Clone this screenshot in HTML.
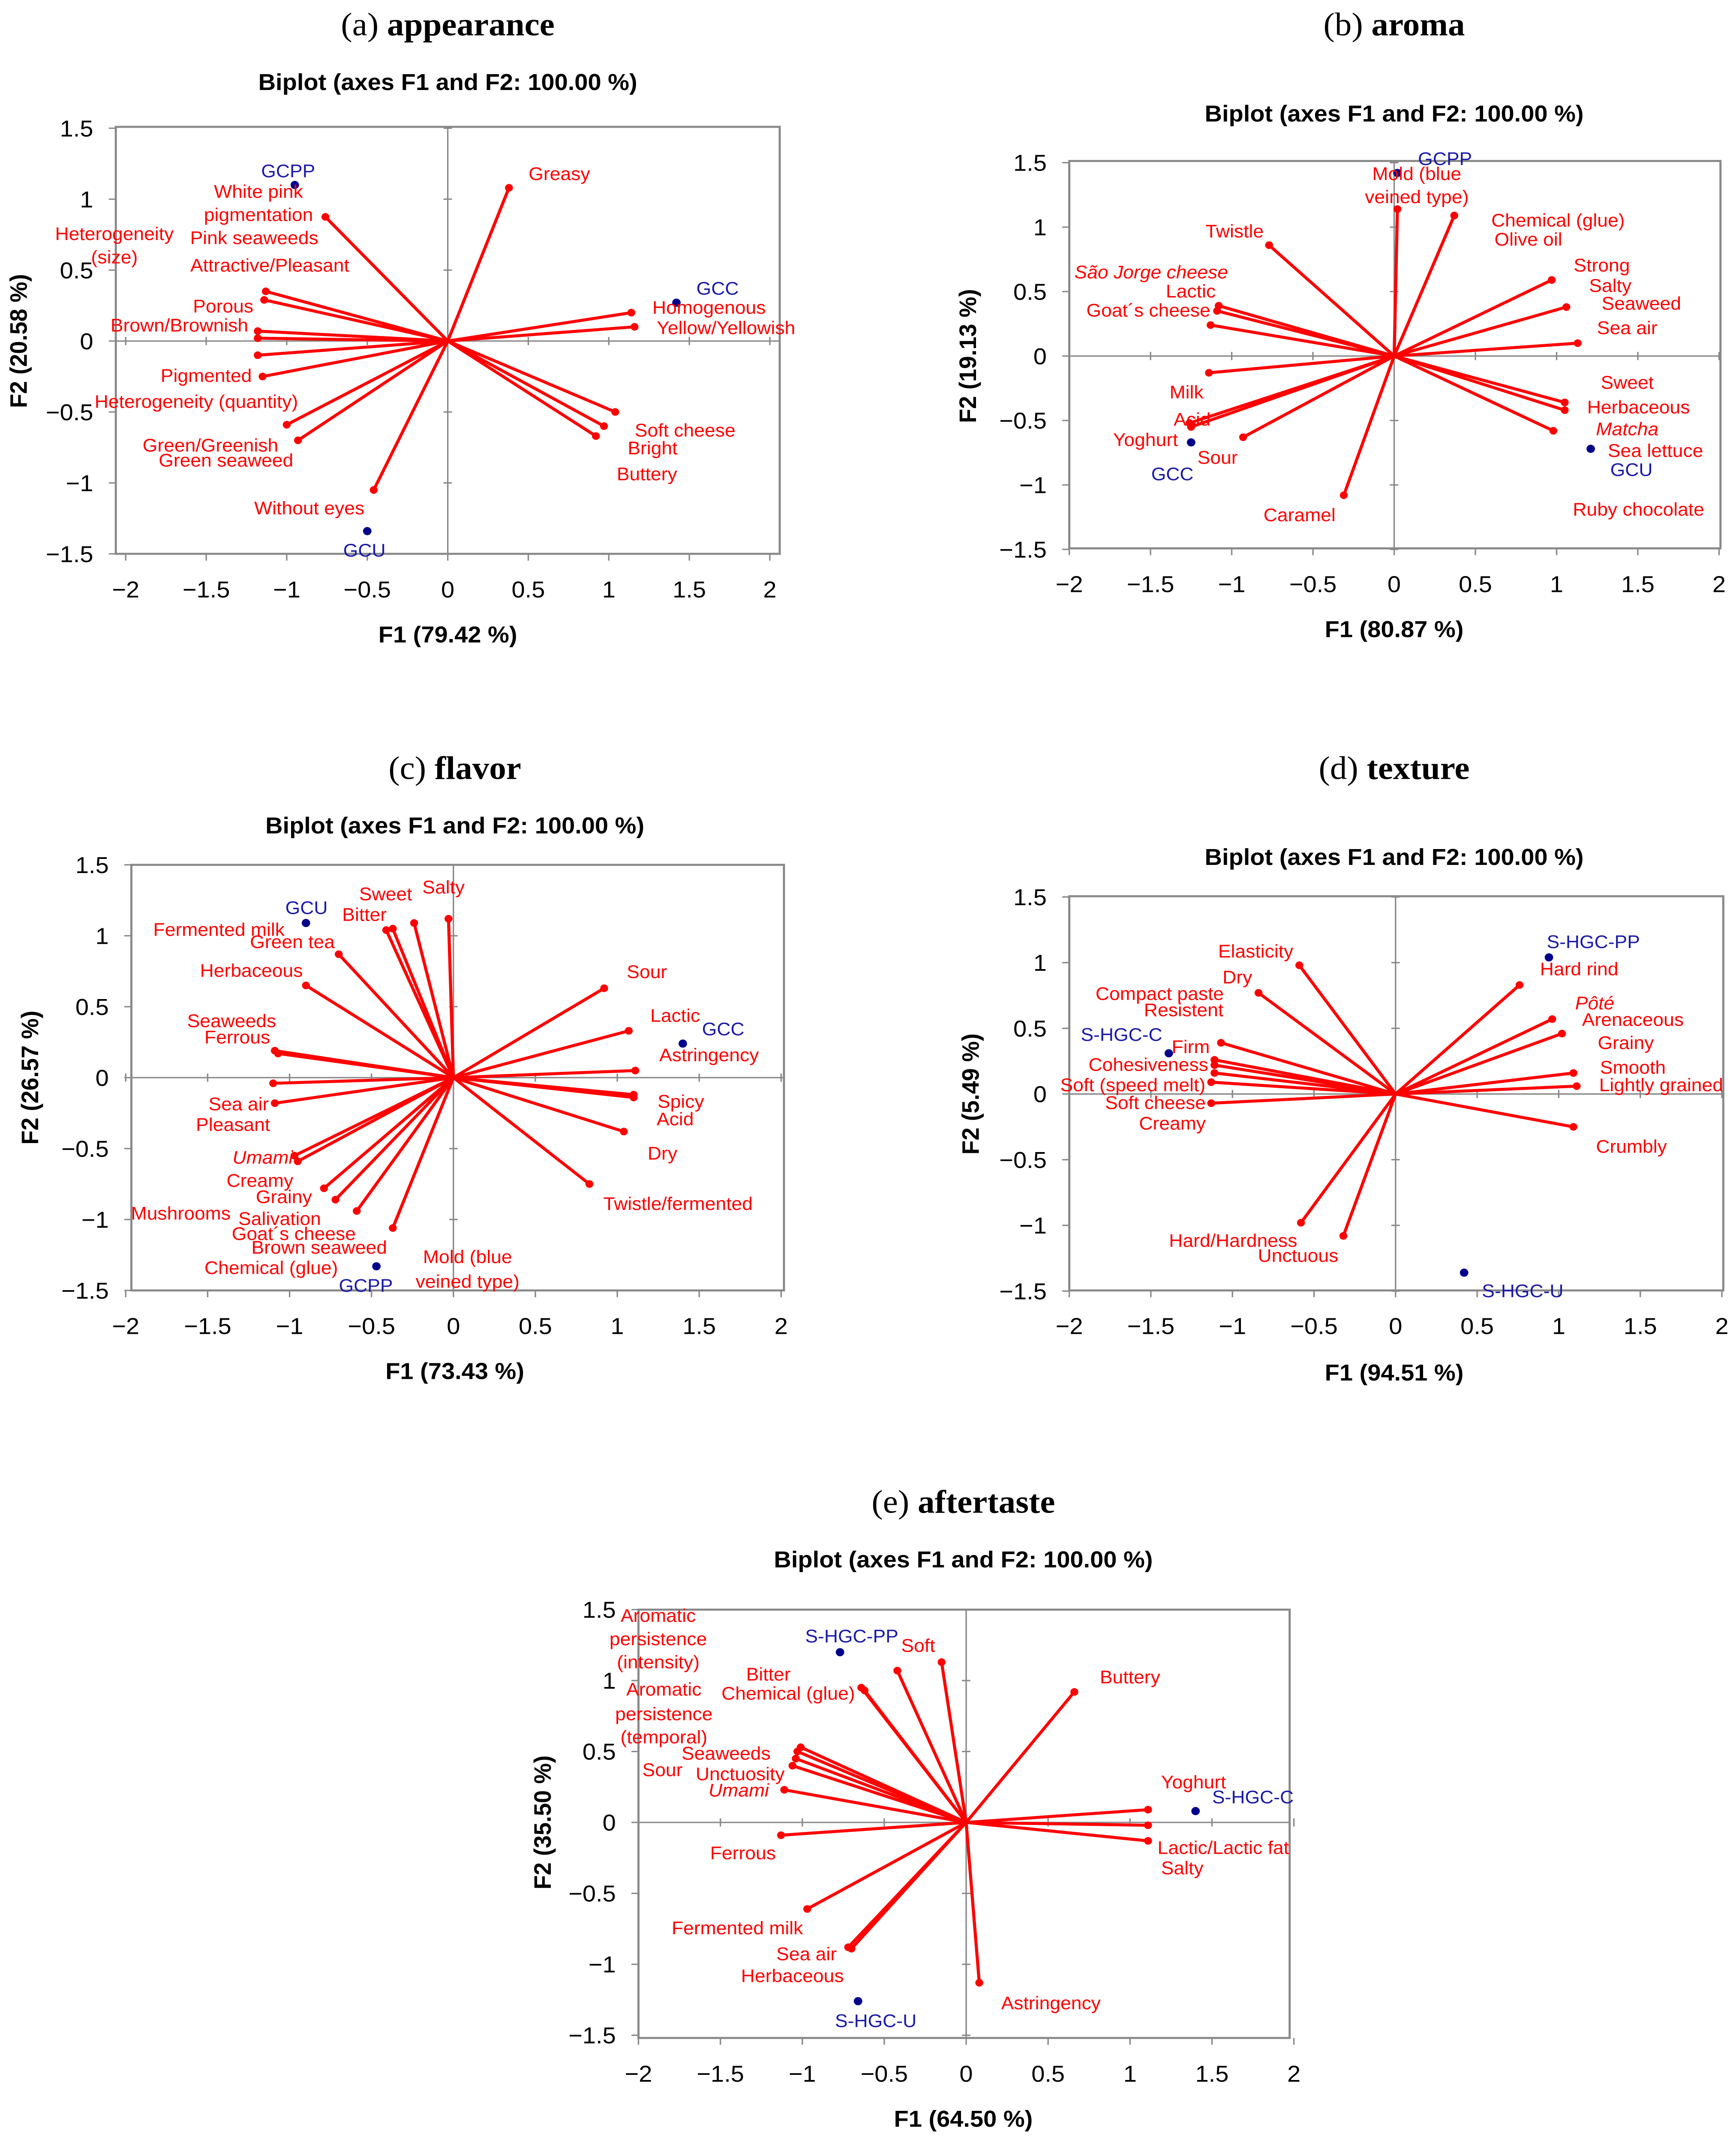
<!DOCTYPE html>
<html><head><meta charset="utf-8"><style>
html,body{margin:0;padding:0;background:#fff;width:100vw;height:100vh;overflow:hidden;}
svg{display:block;position:absolute;left:0;top:0;width:100vw;height:100vh;}
</style></head><body>
<svg id="fig" viewBox="0 0 1229 1571" preserveAspectRatio="none" xmlns="http://www.w3.org/2000/svg" font-family="'Liberation Sans Narrow', 'Liberation Sans', sans-serif"></svg>
<script>
// ---------- Panel (a) appearance ----------
const aVecNames=["Greasy","White pink pigmentation","Attractive/Pleasant","Porous","Brown/Brownish","Heterogeneity (size)","Pink seaweeds","Pigmented","Heterogeneity (quantity)","Green/Greenish","Without eyes","Homogenous","Yellow/Yellowish","Soft cheese","Bright","Buttery"];
const aVecX=[0.38,-0.76,-1.13,-1.14,-1.18,-1.18,-1.18,-1.15,-1.0,-0.93,-0.46,1.14,1.16,1.04,0.97,0.92];
const aVecY=[1.08,0.875,0.35,0.29,0.07,0.02,-0.1,-0.25,-0.59,-0.70,-1.05,0.2,0.1,-0.5,-0.6,-0.67];
const aObsNames=["GCPP","GCC","GCU"];
const aObsX=[-0.95,1.42,-0.5];
const aObsY=[1.1,0.27,-1.34];
// ---------- Panel (b) aroma ----------
const bVecNames=["Mold (blue veined type)","Chemical (glue)","Twistle","Strong","Seaweed","Sea air","Sweet","Herbaceous","Matcha","São Jorge cheese","Lactic","Goat´s cheese","Milk","Acid","Yoghurt","Sour","Caramel"];
const bVecX=[0.02,0.37,-0.77,0.97,1.06,1.13,1.05,1.05,0.98,-1.08,-1.09,-1.13,-1.14,-1.26,-1.25,-0.93,-0.31];
const bVecY=[1.14,1.09,0.86,0.59,0.38,0.10,-0.36,-0.42,-0.58,0.39,0.35,0.24,-0.13,-0.52,-0.55,-0.63,-1.08];
const bObsNames=["GCPP","GCC","GCU"];
const bObsX=[0.02,-1.25,1.21];
const bObsY=[1.42,-0.67,-0.72];
// ---------- Panel (c) flavor ----------
const cVecNames=["Sweet","Bitter","Salty","Green tea","Herbaceous","Seaweeds","Ferrous","Sea air","Pleasant","Umami","Creamy","Grainy","Mushrooms","Salivation","Goat´s cheese","Sour","Lactic","Astringency","Spicy","Acid","Dry","Twistle/fermented","Fermented milk"];
const cVecX=[-0.41,-0.37,-0.03,-0.70,-0.90,-1.09,-1.07,-1.10,-1.09,-0.97,-0.95,-0.79,-0.72,-0.59,-0.37,0.92,1.07,1.11,1.10,1.10,1.04,0.83,-0.24];
const cVecY=[1.04,1.05,1.12,0.87,0.65,0.19,0.17,-0.04,-0.18,-0.55,-0.59,-0.78,-0.86,-0.94,-1.06,0.63,0.33,0.05,-0.12,-0.14,-0.38,-0.75,1.09];
const cObsNames=["GCU","GCC","GCPP"];
const cObsX=[-0.9,1.40,-0.47];
const cObsY=[1.09,0.24,-1.33];
// ---------- Panel (d) texture ----------
const dVecNames=["Elasticity","Dry","Resistent","Firm","Cohesiveness","Soft (speed melt)","Compact paste","Soft cheese","Hard/Hardness","Unctuous","Hard rind","Arenaceous","Grainy","Smooth","Lightly grained","Crumbly"];
const dVecX=[-0.59,-0.84,-1.07,-1.11,-1.11,-1.13,-1.11,-1.13,-0.58,-0.32,0.76,0.96,1.02,1.09,1.11,1.09];
const dVecY=[0.98,0.77,0.39,0.26,0.22,0.09,0.16,-0.07,-0.98,-1.08,0.83,0.57,0.46,0.16,0.06,-0.25];
const dObsNames=["S-HGC-PP","S-HGC-C","S-HGC-U"];
const dObsX=[0.94,-1.39,0.42];
const dObsY=[1.04,0.31,-1.36];
// ---------- Panel (e) aftertaste ----------
const eVecNames=["Soft","Aromatic persistence (intensity)","Bitter","Chemical (glue)","Aromatic persistence (temporal)","Seaweeds","Sour","Unctuosity","Umami","Ferrous","Fermented milk","Sea air","Herbaceous","Astringency","Buttery","Yoghurt","Lactic/Lactic fat","Salty"];
const eVecX=[-0.15,-0.42,-0.64,-0.62,-1.01,-1.03,-1.04,-1.06,-1.11,-1.13,-0.97,-0.72,-0.70,0.08,0.66,1.11,1.11,1.11];
const eVecY=[1.13,1.07,0.95,0.93,0.53,0.50,0.45,0.40,0.23,-0.09,-0.61,-0.88,-0.89,-1.13,0.92,0.09,-0.02,-0.13];
const eObsNames=["S-HGC-PP","S-HGC-C","S-HGC-U"];
const eObsX=[-0.77,1.40,-0.66];
const eObsY=[1.2,0.08,-1.26];
const xTicks=[-2,-1.5,-1,-0.5,0,0.5,1,1.5,2];
const yTicks=[-1.5,-1,-0.5,0,0.5,1,1.5];

const NS="http://www.w3.org/2000/svg";
const svg=document.getElementById('fig');
function mk(tag,attrs,parent,txt){const e=document.createElementNS(NS,tag);for(const k in attrs)e.setAttribute(k,attrs[k]);if(txt!==undefined)e.textContent=txt;(parent||svg).appendChild(e);return e;}
function fmt(v){return (v<0?'−':'')+Math.abs(v);}

function panel(p){
  const g=mk('g',{});
  
  
  const sx=v=>p.x0+v*p.ux, sy=v=>p.y0-v*p.uy;
  const t=mk('text',{x:p.tx,y:p.ty,'text-anchor':'middle','font-family':"'Liberation Serif', serif",'font-size':24},g);
  
  
  mk('tspan',{},t,'('+p.id+') ');mk('tspan',{'font-weight':'bold'},t,p.title);
  const bt=mk('text',{x:p.tx,y:p.by,'text-anchor':'middle','font-weight':'bold','font-size':17},g,'Biplot (axes F1 and F2: 100.00 %)');
  
  
  const bx=mk('rect',{x:p.bx0,y:p.by0,width:p.bx1-p.bx0,height:p.by1-p.by0,fill:'none',stroke:'#888','stroke-width':1.5},g);
  
  
  mk('line',{x1:p.bx0,x2:p.bx1,y1:sy(0),y2:sy(0),stroke:'#888','stroke-width':1},g);
  mk('line',{x1:sx(0),x2:sx(0),y1:p.by0,y2:p.by1,stroke:'#888','stroke-width':1},g);
  xTicks.forEach(v=>{
    const X=sx(v);
    mk('line',{x1:X,x2:X,y1:p.by1,y2:p.by1+5,stroke:'#888'},g);
    mk('line',{x1:X,x2:X,y1:sy(0)-3,y2:sy(0)+3,stroke:'#888'},g);
    const tl=mk('text',{x:X,y:p.by1+32,'text-anchor':'middle','font-size':17},g,fmt(v));
    
    
  });
  yTicks.forEach(v=>{
    const Y=sy(v);
    mk('line',{x1:p.bx0-5,x2:p.bx0,y1:Y,y2:Y,stroke:'#888'},g);
    mk('line',{x1:sx(0)-3,x2:sx(0)+3,y1:Y,y2:Y,stroke:'#888'},g);
    const tl=mk('text',{x:p.bx0-16,y:Y+6,'text-anchor':'end','font-size':17},g,fmt(v));
    
    
  });
  const xl=mk('text',{x:p.tx,y:p.xly,'text-anchor':'middle','font-weight':'bold','font-size':17},g,'F1 ('+p.f1+' %)');
  
  
  const yl=mk('text',{x:0,y:0,'text-anchor':'middle','font-weight':'bold','font-size':17,transform:'translate('+p.ylx+','+sy(0)+') rotate(-90)'},g,'F2 ('+p.f2+' %)');
  
  
  p.vn.forEach((n,i)=>{
    const X=sx(p.vx[i]),Y=sy(p.vy[i]);
    const l=mk('line',{x1:sx(0),y1:sy(0),x2:X,y2:Y,stroke:'#f00','stroke-width':2.2},g);
    
    
    mk('circle',{cx:X,cy:Y,r:2.8,fill:'#f00'},g);
  });
  p.on.forEach((n,i)=>{
    const c=mk('circle',{cx:sx(p.ox[i]),cy:sy(p.oy[i]),r:3,fill:'#00008b'},g);
    
    
  });
  p.labels.forEach(L=>{
    const a={x:L[1],y:L[2]+5,'text-anchor':'middle','font-size':13.5,fill:L[3]==='b'?'#1a1aa8':'#f00'};
    if(L[3]==='i')a['font-style']='italic';
    const tx=mk('text',a,g,L[0]);
    
    
  });
}

panel({id:'a',title:'appearance',tx:317,ty:26,by:66,bx0:82,bx1:552,by0:93,by1:406,x0:317,y0:250,ux:114,uy:104,xly:471,ylx:19,f1:'79.42',f2:'20.58',
 vn:aVecNames,vx:aVecX,vy:aVecY,on:aObsNames,ox:aObsX,oy:aObsY,
 labels:[["Heterogeneity",81,171],["(size)",81,188],["White pink",183,140],["pigmentation",183,157],["Pink seaweeds",180,174],["Attractive/Pleasant",191,194],["Porous",158,224],["Brown/Brownish",127,238],["Pigmented",146,275],["Heterogeneity (quantity)",139,294],["Green/Greenish",149,326],["Green seaweed",160,337],["Without eyes",219,372],["Greasy",396,127],["Homogenous",502,225],["Yellow/Yellowish",514,240],["Soft cheese",485,315],["Bright",462,328],["Buttery",458,347],["GCPP",204,125,'b'],["GCC",508,211,'b'],["GCU",258,403,'b']]});

panel({id:'b',title:'aroma',tx:987,ty:26,by:89,bx0:757,bx1:1218,by0:118,by1:402,x0:987,y0:261,ux:115,uy:94.5,xly:467,ylx:691,f1:'80.87',f2:'19.13',
 vn:bVecNames,vx:bVecX,vy:bVecY,on:bObsNames,ox:bObsX,oy:bObsY,
 labels:[["GCPP",1023,116,'b'],["Mold (blue",1003,127],["veined type)",1003,144],["Chemical (glue)",1103,161],["Olive oil",1082,175],["Twistle",874,169],["Strong",1134,194],["Salty",1140,209],["Seaweed",1162,222],["Sea air",1152,240],["São Jorge cheese",815,199,'i'],["Lactic",843,213],["Goat´s cheese",813,227],["Milk",840,287],["Acid",844,307],["Yoghurt",811,322],["Sour",862,335],["GCC",830,347,'b'],["Caramel",920,377],["Sweet",1152,280],["Herbaceous",1160,298],["Matcha",1152,314,'i'],["Sea lettuce",1172,330],["GCU",1155,344,'b'],["Ruby chocolate",1160,373]]});

panel({id:'c',title:'flavor',tx:322,ty:571,by:611,bx0:93,bx1:555,by0:634,by1:946,x0:321,y0:790,ux:116,uy:104,xly:1011,ylx:27,f1:'73.43',f2:'26.57',
 vn:cVecNames,vx:cVecX,vy:cVecY,on:cObsNames,ox:cObsX,oy:cObsY,
 labels:[["Salty",314,650],["Sweet",273,655],["Bitter",258,670],["GCU",217,665,'b'],["Fermented milk",155,681],["Green tea",207,690],["Herbaceous",178,711],["Seaweeds",164,748],["Ferrous",168,760],["Sea air",169,809],["Pleasant",165,824],["Umami",186,848,'i'],["Creamy",184,865],["Grainy",201,877],["Mushrooms",128,889],["Salivation",198,893],["Goat´s cheese",208,904],["Brown seaweed",226,914],["Chemical (glue)",192,929],["GCPP",259,942,'b'],["Mold (blue",331,921],["veined type)",331,939],["Sour",458,712],["Lactic",478,744],["GCC",512,754,'b'],["Astringency",502,773],["Spicy",482,807],["Acid",478,820],["Dry",469,845],["Twistle/fermented",480,882]]});

panel({id:'d',title:'texture',tx:987,ty:571,by:634,bx0:757,bx1:1220,by0:657,by1:946,x0:988,y0:802,ux:115.5,uy:96.3,xly:1012,ylx:693,f1:'94.51',f2:'5.49',
 vn:dVecNames,vx:dVecX,vy:dVecY,on:dObsNames,ox:dObsX,oy:dObsY,
 labels:[["Elasticity",889,697],["Dry",876,716],["Compact paste",821,728],["Resistent",838,740],["S-HGC-C",794,758,'b'],["Firm",843,767],["Cohesiveness",813,780],["Soft (speed melt)",802,795],["Soft cheese",818,808],["Creamy",830,823],["Hard/Hardness",873,909],["Unctuous",919,920],["S-HGC-PP",1128,690,'b'],["Hard rind",1118,710],["Pôté",1129,735,'i'],["Arenaceous",1156,747],["Grainy",1151,764],["Smooth",1156,782],["Lightly grained",1176,795],["Crumbly",1155,840],["S-HGC-U",1078,946,'b']]});

panel({id:'e',title:'aftertaste',tx:682,ty:1109,by:1149,bx0:452,bx1:913,by0:1180,by1:1494,x0:684,y0:1336,ux:116,uy:104,xly:1559,ylx:390,f1:'64.50',f2:'35.50',
 vn:eVecNames,vx:eVecX,vy:eVecY,on:eObsNames,ox:eObsX,oy:eObsY,
 labels:[["Aromatic",466,1184],["persistence",466,1201],["(intensity)",466,1218],["Aromatic",470,1238],["persistence",470,1256],["(temporal)",470,1273],["S-HGC-PP",603,1199,'b'],["Soft",650,1206],["Bitter",544,1227],["Chemical (glue)",558,1241],["Seaweeds",514,1285],["Sour",469,1297],["Unctuosity",524,1300],["Umami",523,1312,'i'],["Ferrous",526,1358],["Fermented milk",522,1413],["Sea air",571,1432],["Herbaceous",561,1448],["S-HGC-U",620,1481,'b'],["Astringency",744,1468],["Buttery",800,1229],["Yoghurt",845,1306],["S-HGC-C",887,1317,'b'],["Lactic/Lactic fat",866,1354],["Salty",837,1369]]});
</script>
</body></html>
